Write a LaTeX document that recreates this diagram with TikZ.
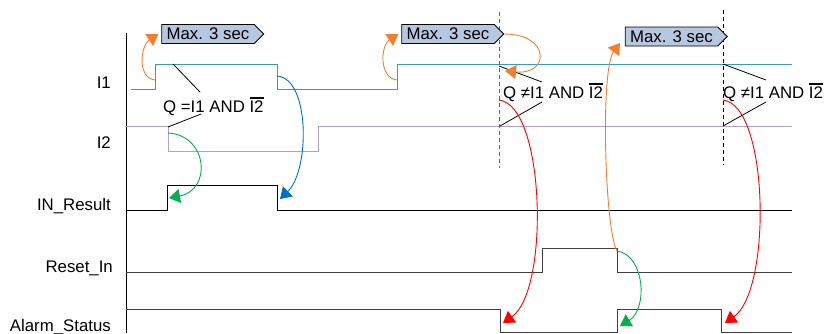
\documentclass[tikz,border=0pt]{standalone}
\usepackage{fontspec}
\setmainfont{Liberation Sans}
\usetikzlibrary{arrows.meta,positioning,shapes.symbols}
\definecolor{sigteal}{RGB}{60,155,180}
\definecolor{sigpurple}{RGB}{178,161,199}
\definecolor{arrorange}{RGB}{240,128,45}
\definecolor{arrgreen}{RGB}{0,176,80}
\definecolor{arrblue}{RGB}{0,112,192}
\definecolor{arrred}{RGB}{255,0,0}
\definecolor{tagfill}{RGB}{184,199,224}
\newcommand\notsig[1]{\setbox0=\hbox{#1}\rlap{\rule[\dimexpr\ht0+1.5pt\relax]{\wd0}{2.2pt}}\box0}

\begin{document}
\begin{tikzpicture}[x=1pt,y=-1pt,
  sigfont/.style={font=\fontsize{16.8}{19}\selectfont},
  siglabel/.style={sigfont,anchor=base east,inner sep=0pt},
  eqtext/.style={sigfont,anchor=base west,inner sep=0pt},
  tagbox/.style={signal,signal to=east,draw,fill=tagfill,line width=0.8pt,
    minimum width=102pt,minimum height=19pt,inner sep=1pt,sigfont},
  wave/.style={line width=1pt,line join=miter},
  cause/.style={line width=0.9pt,-{Triangle[length=11pt,width=14pt]}},
  markline/.style={line width=0.8pt,dash pattern=on 4pt off 3pt}
]
  \useasboundingbox (0,0) rectangle (825,333);
  % Signal names
  \node[siglabel] (lbli1) at (111,88) {I1};
  \node[siglabel] (lbli2) at (111,148) {I2};
  \node[siglabel] (lblin) at (111,210) {IN\_Result};
  \node[siglabel] (lblrst) at (113,272) {Reset\_In};
  \node[siglabel] (lblalm) at (111,331) {Alarm\_Status};
  % Time axis
  \draw[line width=0.9pt] (126,33) -- (126,333);
  % Waveforms
  \draw[wave,sigteal] (131,89) -- (155,89) -- (155,64) -- (277,64) -- (277,89) -- (397,89) -- (397,64) -- (792,64);
  \draw[wave,sigpurple] (125,126) -- (168,126) -- (168,151) -- (318,151) -- (318,126) -- (792,126);
  \draw[wave] (126,210) -- (167,210) -- (167,185) -- (277,185) -- (277,210) -- (792,210);
  \draw[wave,black!75] (126,272) -- (542,272) -- (542,248) -- (617,248) -- (617,272) -- (792,272);
  \draw[wave,black!75] (126,309) -- (500,309) -- (500,332) -- (617,332) -- (617,309) -- (721,309) -- (721,332) -- (792,332);
  % Check points
  \draw[markline,black!60] (499,12) -- (499,168);
  \draw[markline] (723,10) -- (723,165);
  % Timeout tags
  \node[tagbox] (tagA) at (208,34) {Max. 3 sec};
  \node[tagbox] (tagB) at (448,34) {Max. 3 sec};
  \node[tagbox] (tagC) at (671.5,36.5) {Max. 3 sec};
  % Conditions
  \node[eqtext] (eqA) at (163,112) {Q =I1 AND \notsig{I2}};
  \node[eqtext] (eqB) at (503,98) {Q ≠I1 AND \notsig{I2}};
  \node[eqtext] (eqC) at (723,98) {Q ≠I1 AND \notsig{I2}};
  \draw[line width=0.8pt] (173,64) -- (200,92);
  \draw[line width=0.8pt] (168,127) -- (201,114);
  \draw[line width=0.8pt] (499,66) -- (542,82);
  \draw[line width=0.8pt] (500,126) -- (542,102);
  \draw[line width=0.8pt] (723,64) -- (766,80);
  \draw[line width=0.8pt] (723,126) -- (766,102);
  % Edge points
  \coordinate (i1upA) at (155,80);
  \coordinate (i1upB) at (397,80);
  \coordinate (i1down) at (277,76);
  \coordinate (i2down) at (168,133);
  \coordinate (inup) at (169,198);
  \coordinate (indown) at (280,199);
  \coordinate (backB) at (505,71);
  \coordinate (rstdown) at (617,251);
  \coordinate (tipC) at (620,43);
  \coordinate (almup) at (620,326);
  \coordinate (qneB) at (499,100);
  \coordinate (qneC) at (723,100);
  \coordinate (almdownB) at (503,323);
  \coordinate (almdownC) at (725,323);
  % Cause arrows
  \draw[cause,arrorange] (i1upA) .. controls +(-18,-2) and +(-18,12) .. ([xshift=-3pt]tagA.west);
  \draw[cause,arrorange] (i1upB) .. controls +(-18,-2) and +(-18,12) .. ([xshift=-3pt]tagB.west);
  \draw[cause,arrorange] (tagB.east) .. controls +(46,0) and +(45,4) .. (backB);
  \draw[cause,arrorange] (rstdown) .. controls +(-12,-20) and +(-20,27) .. (tipC);
  \draw[cause,arrgreen] (i2down) .. controls +(40,2) and +(43,-8) .. (inup);
  \draw[cause,arrblue] (i1down) .. controls +(33,2) and +(30,-29) .. (indown);
  \draw[cause,arrgreen] (rstdown) .. controls +(28,4) and +(28,-17) .. (almup);
  \draw[cause,arrred] (qneB) .. controls +(46,5) and +(47,-33) .. (almdownB);
  \draw[cause,arrred] (qneC) .. controls +(46,5) and +(47,-33) .. (almdownC);
\end{tikzpicture}
\end{document}
